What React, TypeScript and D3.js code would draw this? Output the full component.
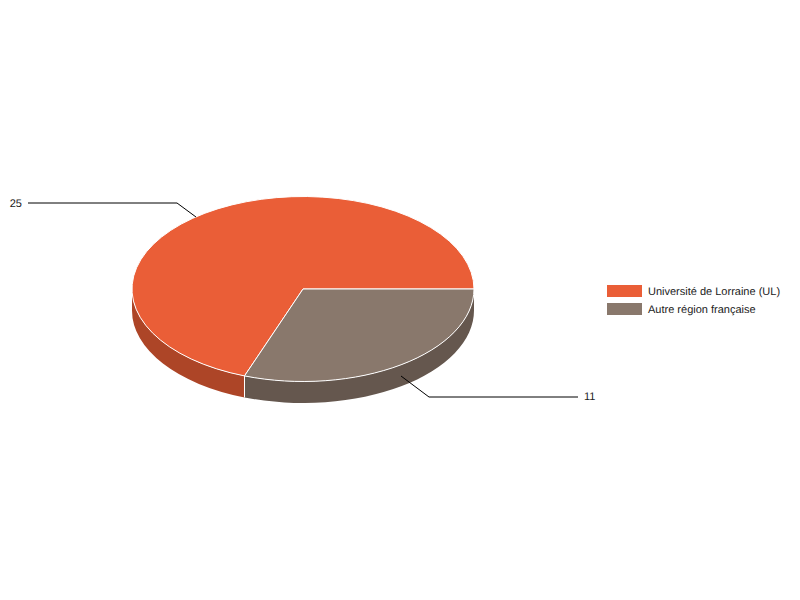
import * as d3 from "d3";

const categories = ["Université de Lorraine (UL)", "Autre région française"];
const values = [25, 11];
const topColors = ["#ea5e37", "#89786c"];
const sideColors = ["#ad4527", "#65574e"];

const width = 800;
const height = 600;
const cx = 303;
const cy = 289;
const rx = 171;
const ry = 92.5;
const depth = 21.5;
const font = "Arial, 'Liberation Sans', sans-serif";

const rad = (deg: number) => (deg * Math.PI) / 180;
const px = (a: number) => cx + rx * Math.sin(a);
const py = (a: number) => cy - ry * Math.cos(a);

const slices = d3
  .pie<number>()
  .sort(null)
  .startAngle(rad(200))
  .endAngle(rad(560))(values);

function topPath(a0: number, a1: number) {
  const large = a1 - a0 > Math.PI ? 1 : 0;
  return `M${cx},${cy}L${px(a0)},${py(a0)}A${rx},${ry} 0 ${large} 1 ${px(a1)},${py(a1)}Z`;
}

// the wall only shows on the front half of the ellipse (90 to 270 degrees)
function sidePath(a0: number, a1: number) {
  const ranges = [
    [rad(90), rad(270)],
    [rad(450), rad(630)],
  ];
  let d = "";
  ranges.forEach(([lo, hi]) => {
    const s = Math.max(a0, lo);
    const e = Math.min(a1, hi);
    if (e <= s) return;
    d += `M${px(s)},${py(s)}A${rx},${ry} 0 0 1 ${px(e)},${py(e)}`;
    d += `L${px(e)},${py(e) + depth}A${rx},${ry} 0 0 0 ${px(s)},${py(s) + depth}Z`;
  });
  return d;
}

const leaders = [
  { points: [[196, 217], [177, 203], [28, 203]], labelX: 22, anchor: "end", labelY: 207 },
  { points: [[401, 376], [429, 397], [578, 397]], labelX: 584, anchor: "start", labelY: 400 },
];

const legendY = d3
  .scalePoint<string>()
  .domain(categories)
  .range([291, 309]);

export default function App() {
  const line = d3.line();
  return (
    <svg
      width={width}
      height={height}
      textRendering="geometricPrecision"
      style={{ position: "absolute", left: 0, top: 0 }}
    >
      <rect width={width} height={height} fill="#ffffff" />
      {slices.map((s, i) => (
        <path
          key={"side" + i}
          d={sidePath(s.startAngle, s.endAngle)}
          fill={sideColors[i]}
        />
      ))}
      {/* white seam where the two walls meet */}
      <path
        d={line([
          [px(slices[0].startAngle), py(slices[0].startAngle)],
          [px(slices[0].startAngle), py(slices[0].startAngle) + depth],
        ]) || ""}
        stroke="#ffffff"
        strokeWidth={1}
      />
      {slices.map((s, i) => (
        <path
          key={"top" + i}
          d={topPath(s.startAngle, s.endAngle)}
          fill={topColors[i]}
          stroke="#ffffff"
          strokeWidth={1}
        />
      ))}
      {leaders.map((l, i) => (
        <g key={"leader" + i}>
          <path
            d={line(l.points as [number, number][]) || ""}
            fill="none"
            stroke="#000000"
            strokeWidth={1}
          />
          <text
            x={l.labelX}
            y={l.labelY}
            textAnchor={l.anchor as "start" | "end"}
            fontFamily={font}
            fontSize={11}
            fill="#222222"
          >
            {values[i]}
          </text>
        </g>
      ))}
      {categories.map((c, i) => (
        <g key={c}>
          <rect
            x={607}
            y={legendY(c)! - 6}
            width={35}
            height={12}
            fill={topColors[i]}
          />
          <text
            x={648}
            y={legendY(c)! + 4}
            fontFamily={font}
            fontSize={11}
            fill="#222222"
          >
            {c}
          </text>
        </g>
      ))}
    </svg>
  );
}
